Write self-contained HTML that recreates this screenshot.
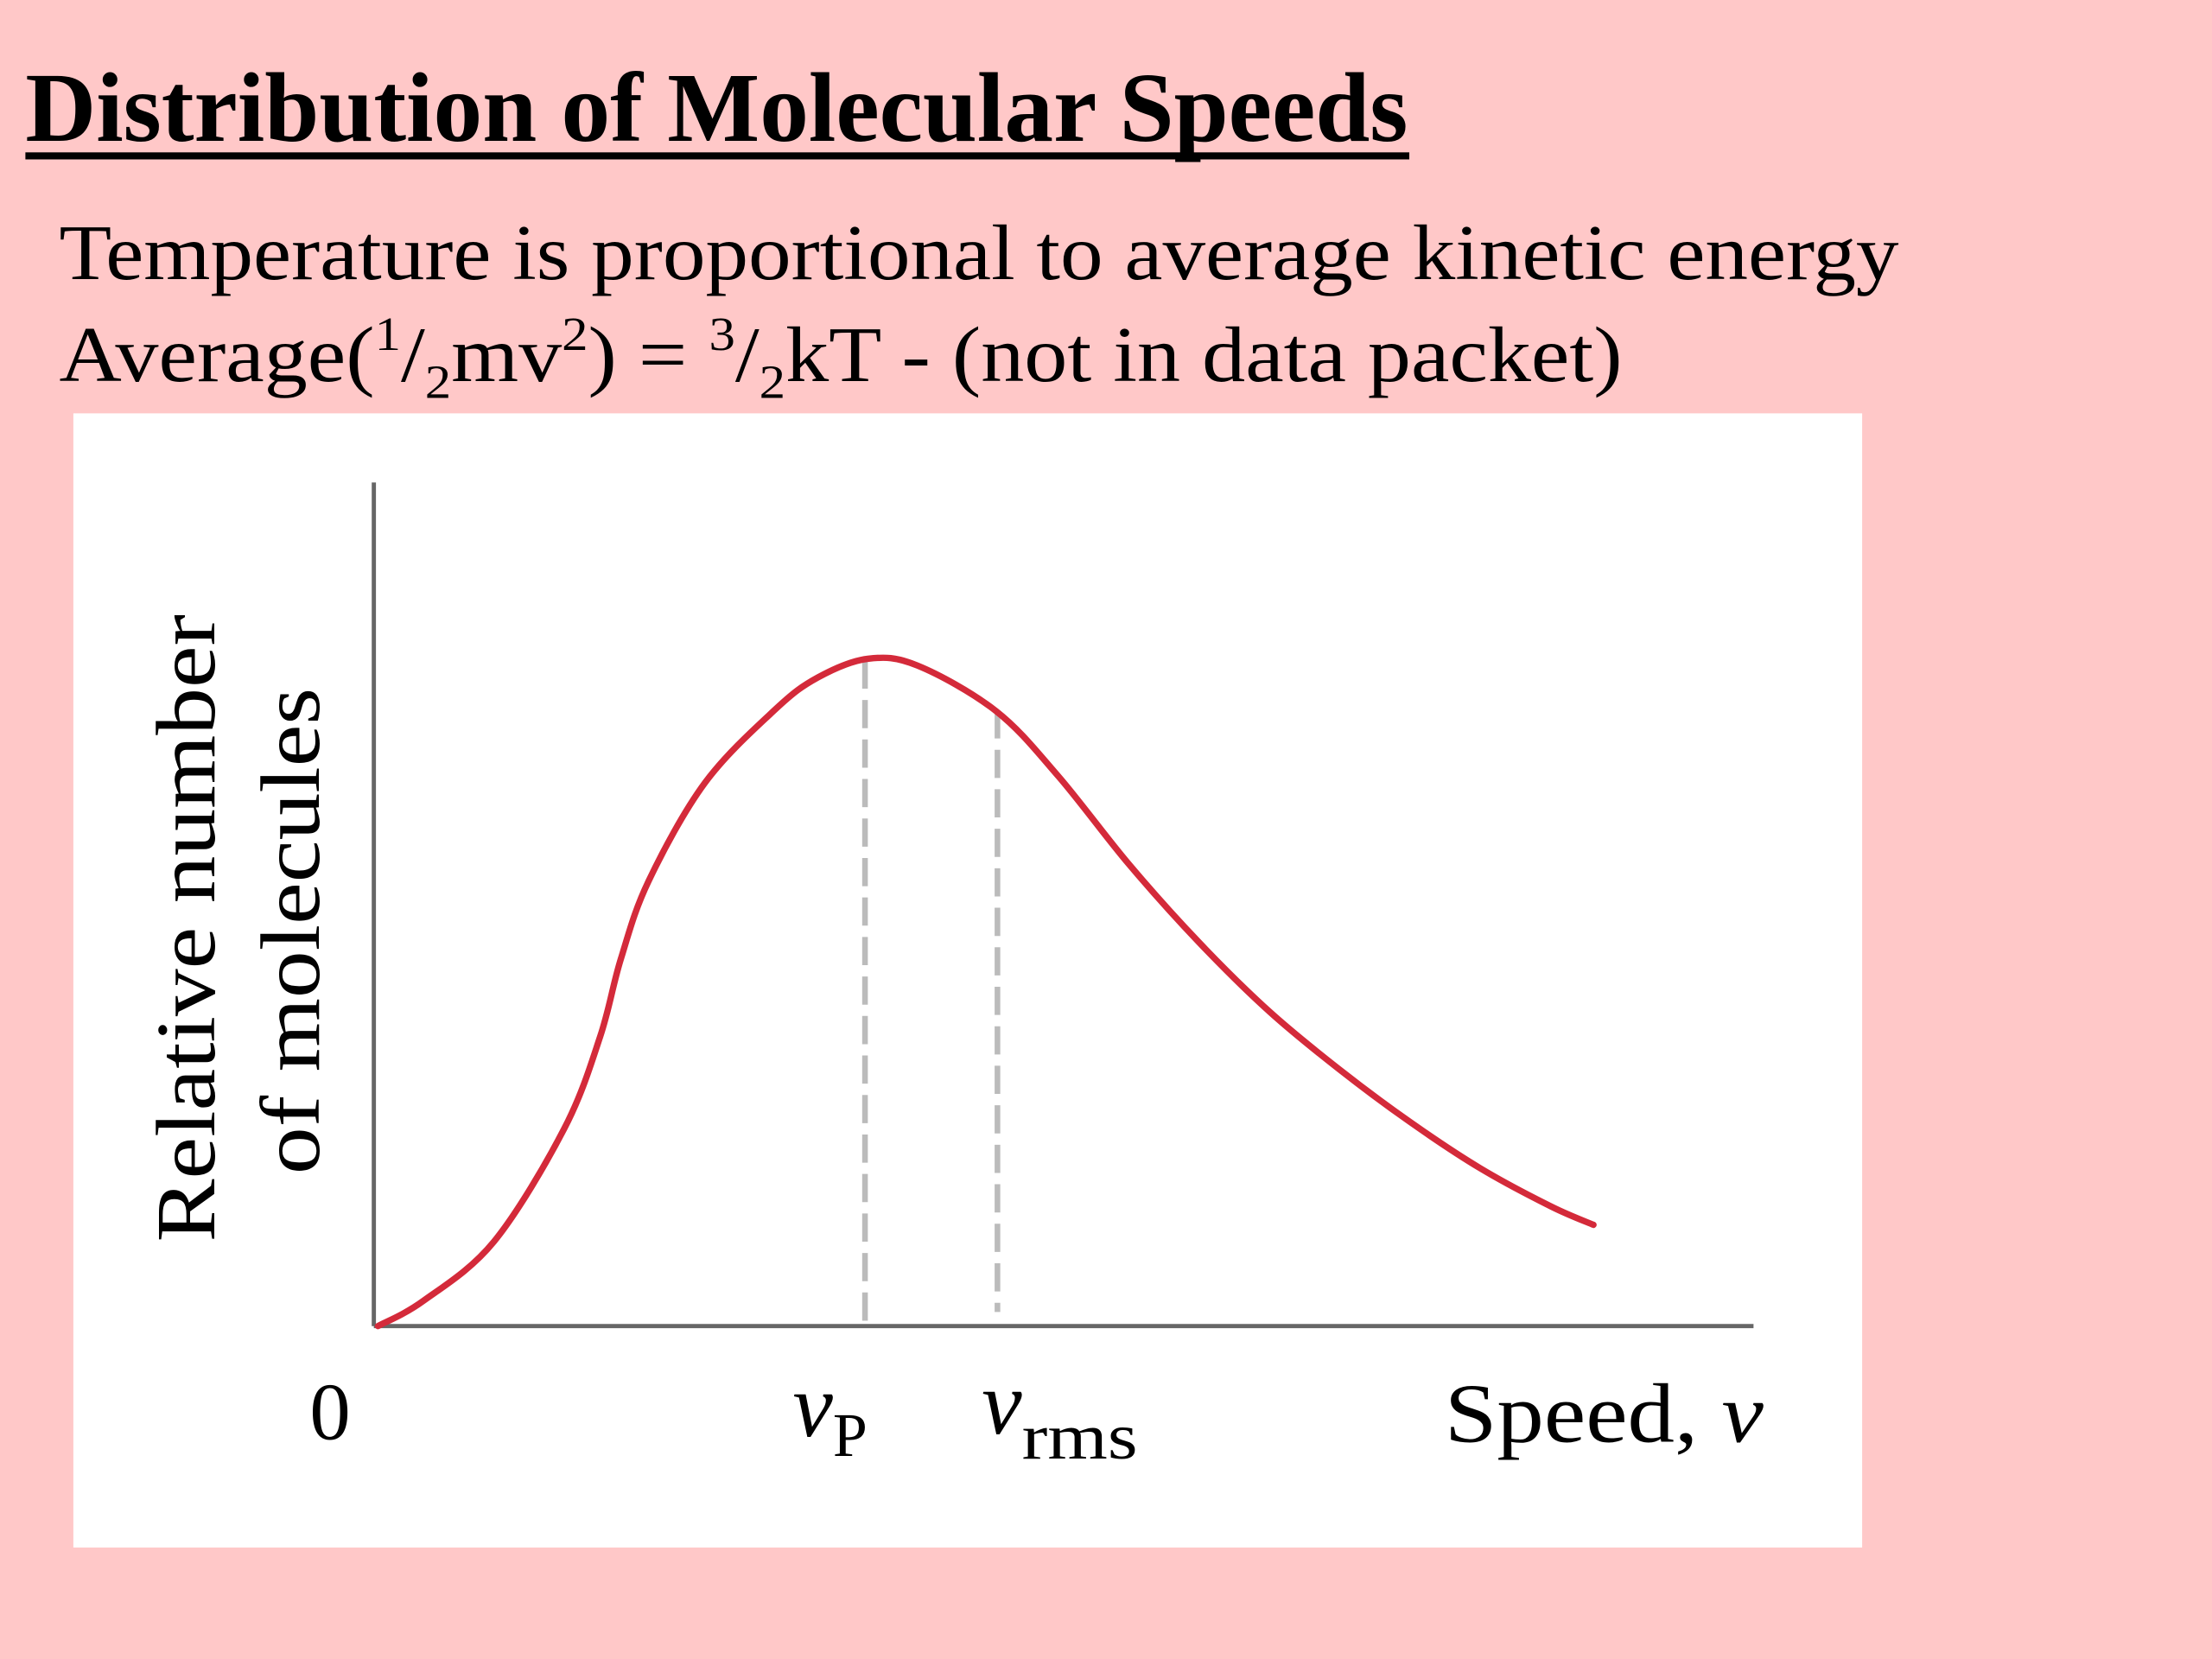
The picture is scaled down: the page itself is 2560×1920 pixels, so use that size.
<!DOCTYPE html>
<html><head><meta charset="utf-8"><style>
html,body{margin:0;padding:0;background:#ffc8c8;}
svg{display:block;}
text{font-family:"Liberation Serif",serif;fill:#000;}
</style></head><body>
<svg id="chart" width="2560" height="1920" viewBox="0 0 1568 1176" xmlns="http://www.w3.org/2000/svg">
<rect width="1568" height="1176" fill="#ffc8c8"/>
<text x="18" y="100" font-size="70" font-weight="bold" textLength="980" lengthAdjust="spacingAndGlyphs">Distribution of Molecular Speeds</text>
<rect x="18" y="108" width="981" height="5" fill="#000"/>
<text x="42" y="198" font-size="56" textLength="1304" lengthAdjust="spacingAndGlyphs">Temperature is proportional to average kinetic energy</text>
<text x="42" y="270" font-size="56" textLength="1108" lengthAdjust="spacingAndGlyphs">Average(<tspan font-size="34" dy="-22">1</tspan><tspan dy="22">/</tspan><tspan font-size="34" dy="12">2</tspan><tspan dy="-12">mv</tspan><tspan font-size="34" dy="-22">2</tspan><tspan dy="22">) = </tspan><tspan font-size="34" dy="-22">3</tspan><tspan dy="22">/</tspan><tspan font-size="34" dy="12">2</tspan><tspan dy="-12">kT - (not in data packet)</tspan></text>
<rect x="52" y="293" width="1268" height="804" fill="#fff"/>
<g id="plot"></g>
<text transform="translate(152,658) rotate(-90)" text-anchor="middle" font-size="60" textLength="445" lengthAdjust="spacingAndGlyphs">Relative number</text>
<text transform="translate(226,660) rotate(-90)" text-anchor="middle" font-size="60" textLength="345" lengthAdjust="spacingAndGlyphs">of molecules</text>
<text x="234" y="1020" font-size="58" text-anchor="middle">0</text>
<text x="562" y="1018" font-size="64" font-style="italic">v<tspan font-style="normal" font-size="44" dy="14">P</tspan></text>
<text x="696" y="1016" font-size="64" font-style="italic">v<tspan font-style="normal" font-size="46" dy="18" textLength="82" lengthAdjust="spacingAndGlyphs">rms</tspan></text>
<text x="1024" y="1022" font-size="60" textLength="226" lengthAdjust="spacingAndGlyphs">Speed, <tspan font-style="italic">v</tspan></text>
</svg>
<script>
const speeds = [0.03,0.36,0.87,1.38,1.64,1.79,1.99,2.40,2.91,3.22,3.58,3.94,4.51,4.96,5.47,5.98,6.49,7.00,7.51,8.02,8.53,8.84];
const counts = [0,0.03,0.10,0.234,0.343,0.435,0.527,0.644,0.731,0.769,0.791,0.783,0.729,0.652,0.548,0.455,0.373,0.304,0.242,0.187,0.142,0.12];
const vp = 3.56;
const vrms = 4.52;
const vpCount = 0.789;
const vrmsCount = 0.73;
const NS = "http://www.w3.org/2000/svg";
const X0 = 265, X1 = 1243, Y0 = 940, Y1 = 342;
function xs(v){return X0 + v/10*(X1-X0);}
function ys(v){return Y0 - v*(Y0-Y1);}
const g = document.getElementById('plot');
function mk(tag, attrs){const e=document.createElementNS(NS,tag);for(const k in attrs)e.setAttribute(k,attrs[k]);g.appendChild(e);return e;}
const ya = mk('line',{x1:X0,y1:Y1,x2:X0,y2:Y0,stroke:'#666','stroke-width':3});


const xa = mk('line',{x1:X0,y1:Y0,x2:X1,y2:Y0,stroke:'#666','stroke-width':3});


const d1 = mk('line',{x1:xs(vp),y1:ys(vpCount),x2:xs(vp),y2:Y0,stroke:'#bbb','stroke-width':4,'stroke-dasharray':'20,8'});


const d2 = mk('line',{x1:xs(vrms),y1:ys(vrmsCount),x2:xs(vrms),y2:Y0-10,stroke:'#bbb','stroke-width':4,'stroke-dasharray':'20,8'});


const pts = speeds.map((s,i)=>[xs(s),ys(counts[i])]);
let d = 'M'+pts[0][0]+','+pts[0][1];
for(let i=0;i<pts.length-1;i++){
  const p0=pts[i-1]||pts[i], p1=pts[i], p2=pts[i+1], p3=pts[i+2]||p2;
  const c1=[p1[0]+(p2[0]-p0[0])/6, p1[1]+(p2[1]-p0[1])/6];
  const c2=[p2[0]-(p3[0]-p1[0])/6, p2[1]-(p3[1]-p1[1])/6];
  d+=' C'+c1[0]+','+c1[1]+' '+c2[0]+','+c2[1]+' '+p2[0]+','+p2[1];
}
const curve = mk('path',{d:d,fill:'none',stroke:'#d42a3a','stroke-width':4.5,'stroke-linecap':'round'});


</script>
</body></html>
